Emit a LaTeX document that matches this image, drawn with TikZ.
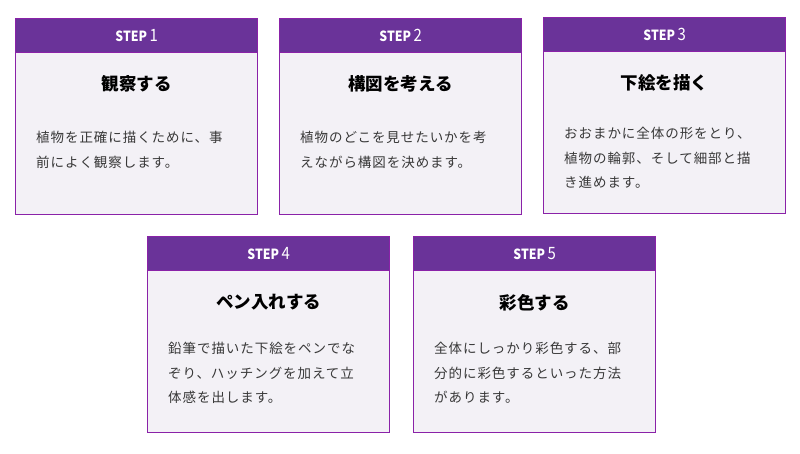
\documentclass[tikz,border=0pt]{standalone}
\usepackage{fontspec}
\setmainfont{Noto Sans CJK JP}
\newfontfamily\jpfont[LetterSpace=7]{Noto Sans CJK JP}
\newfontfamily\stepfont[FakeStretch=0.88]{Noto Sans CJK JP}
\usetikzlibrary{positioning}
\definecolor{stHead}{HTML}{6A3399}
\definecolor{stLine}{HTML}{8A22A8}
\definecolor{stBody}{HTML}{F3F1F6}
\definecolor{stText}{HTML}{383838}

\begin{document}
\begin{tikzpicture}[x=1pt, y=-1pt,
  stepbox/.style={fill=stBody, draw=stLine, line width=1.3pt, minimum width=242pt,
    minimum height=196pt, inner sep=0pt, anchor=north west},
  stephead/.style={fill=stHead, draw=stLine, line width=1.3pt, minimum width=242pt,
    minimum height=34pt, inner sep=0pt, anchor=north, text=white},
  steptitle/.style={font=\fontsize{17.5}{20}\selectfont\bfseries, text=black, inner sep=0pt},
  stepbody/.style={font=\jpfont\fontsize{13.5}{24.5}\selectfont, text=stText, align=left,
    inner sep=0pt, anchor=north west}]
  % 余白
  \useasboundingbox (0,0) rectangle (800,453);
  % カード
  \foreach \n/\x/\y/\dy/\ttl/\txt in {
    1/15/18/78/観察する/{植物を正確に描くために、事\\前によく観察します。},
    2/279/18/78/構図を考える/{植物のどこを見せたいかを考\\えながら構図を決めます。},
    3/543/17/75/下絵を描く/{おおまかに全体の形をとり、\\植物の輪郭、そして細部と描\\き進めます。},
    4/147/236/71/ペン入れする/{鉛筆で描いた下絵をペンでな\\ぞり、ハッチングを加えて立\\体感を出します。},
    5/413/236/71/彩色する/{全体にしっかり彩色する、部\\分的に彩色するといった方法\\があります。}}{
    \node[stepbox] (box\n) at (\x,\y) {};
    \node[stephead] (head\n) at (box\n.north)
      {\stepfont\fontsize{14}{16}\selectfont\bfseries STEP\,{\fontsize{17}{18}\selectfont\mdseries\n}};
    \node[steptitle] (title\n) at ([yshift=-31pt]head\n.south) {\ttl};
    \node[stepbody] (text\n) at ([xshift=21pt, yshift=-\dy pt]head\n.south west) {\txt};
  }
\end{tikzpicture}
\end{document}
